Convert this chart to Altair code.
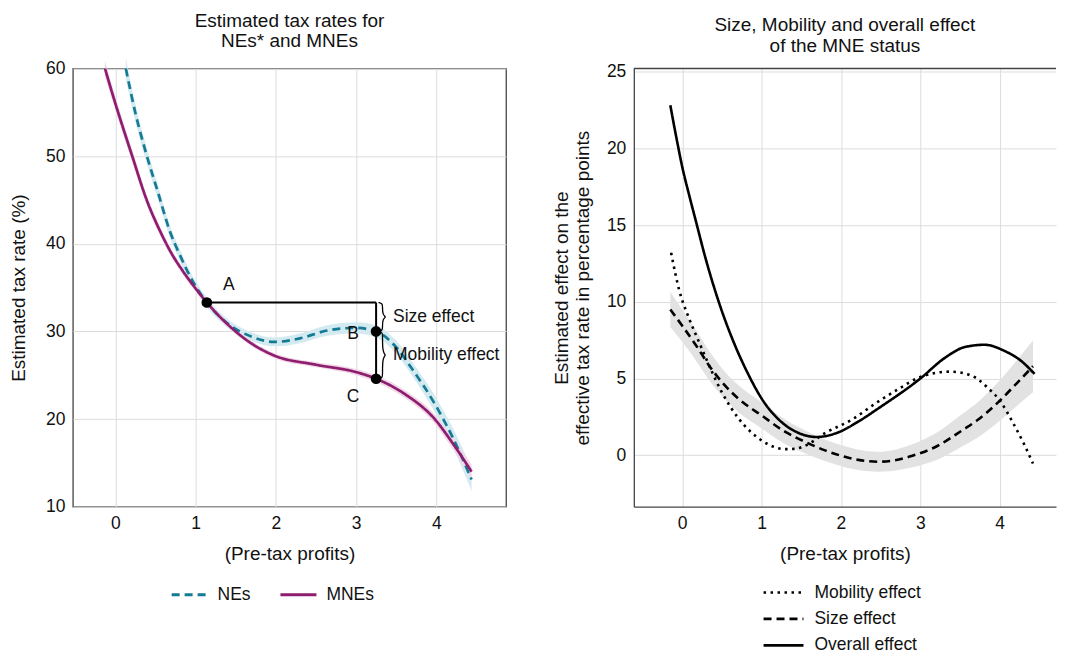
import altair as alt
import pandas as pd

FONT = "Liberation Sans"

# ---------------- Left panel data ----------------
ne_x = [0.13, 0.25, 0.39, 0.53, 0.68, 0.80, 0.93, 1.14, 1.40, 1.70, 1.98, 2.30, 2.64, 3.00, 3.25, 3.50, 3.70, 3.99, 4.20, 4.44]
ne_y = [60.0, 54.9, 50.1, 45.9, 41.4, 38.8, 36.3, 33.3, 30.9, 29.4, 28.8, 29.2, 30.1, 30.4, 30.0, 28.2, 25.7, 21.6, 18.0, 13.1]
ne_hw = [1.2, 1.0, 0.9, 0.8, 0.7, 0.65, 0.6, 0.55, 0.5, 0.5, 0.5, 0.55, 0.6, 0.65, 0.7, 0.75, 0.8, 0.95, 1.1, 1.3]

mne_x = [-0.13, 0.00, 0.21, 0.39, 0.57, 0.70, 0.84, 1.00, 1.14, 1.40, 1.70, 1.98, 2.50, 3.00, 3.25, 3.60, 3.99, 4.20, 4.44]
mne_y = [60.0, 56.0, 50.0, 45.0, 41.2, 38.9, 36.9, 34.9, 33.3, 30.8, 28.6, 27.25, 26.2, 25.36, 24.6, 22.9, 19.9, 17.3, 14.0]
mne_hw = [0.9, 0.8, 0.7, 0.6, 0.5, 0.45, 0.4, 0.38, 0.35, 0.3, 0.3, 0.3, 0.3, 0.35, 0.4, 0.45, 0.55, 0.65, 0.8]

pt_labels = ["A", "B", "C"]
pt_x = [1.14, 3.25, 3.25]
pt_y = [33.3, 30.0, 24.6]

footnote = "*NEs = national enterprises"

# ---------------- Right panel data ----------------
all_x = [-0.15, -0.07, 0.00, 0.09, 0.18, 0.28, 0.46, 0.67, 0.84, 1.00, 1.25, 1.46, 1.69, 1.97, 2.22, 2.47, 3.00, 3.31, 3.56, 3.81, 4.06, 4.27, 4.44]
all_y = [22.8, 20.6, 18.8, 16.9, 15.1, 13.1, 10.0, 7.1, 5.2, 3.7, 2.17, 1.47, 1.19, 1.5, 2.2, 3.05, 5.0, 6.35, 7.05, 7.2, 6.8, 6.15, 5.3]

mob_x = [-0.14, -0.04, 0.08, 0.21, 0.36, 0.50, 0.71, 1.00, 1.30, 1.42, 1.55, 1.80, 2.13, 2.47, 2.72, 3.00, 3.37, 3.64, 3.85, 4.01, 4.18, 4.31, 4.42]
mob_y = [13.2, 10.8, 9.0, 7.4, 5.6, 4.1, 2.4, 0.97, 0.40, 0.42, 0.62, 1.45, 2.3, 3.5, 4.3, 5.1, 5.45, 5.2, 4.4, 3.5, 2.0, 0.7, -0.54]

size_x = [-0.15, 0.00, 0.19, 0.34, 0.50, 0.71, 1.00, 1.30, 1.55, 1.80, 2.05, 2.22, 2.47, 2.67, 2.89, 3.22, 3.52, 3.73, 3.98, 4.23, 4.42]
size_y = [9.5, 8.44, 7.04, 5.84, 4.77, 3.68, 2.6, 1.52, 0.87, 0.32, -0.1, -0.3, -0.42, -0.33, -0.05, 0.62, 1.6, 2.33, 3.45, 4.77, 5.8]
size_hw = [1.15, 1.05, 1.0, 0.95, 0.9, 0.88, 0.85, 0.8, 0.75, 0.7, 0.68, 0.66, 0.65, 0.68, 0.75, 0.9, 1.05, 1.15, 1.3, 1.5, 1.7]

series_names = ["Mobility effect", "Size effect", "Overall effect"]

# ---------------- Build tables ----------------
ne_band = pd.DataFrame({"x": ne_x, "lo": [y - h for y, h in zip(ne_y, ne_hw)], "hi": [y + h for y, h in zip(ne_y, ne_hw)]})
mne_band = pd.DataFrame({"x": mne_x, "lo": [y - h for y, h in zip(mne_y, mne_hw)], "hi": [y + h for y, h in zip(mne_y, mne_hw)]})
left_lines = pd.concat([
    pd.DataFrame({"x": ne_x, "y": ne_y, "group": "NEs"}),
    pd.DataFrame({"x": mne_x, "y": mne_y, "group": "MNEs"}),
])
pts = pd.DataFrame({"x": pt_x, "y": pt_y, "label": pt_labels})
hrule = pd.DataFrame({"x": [pt_x[0]], "x2": [pt_x[2]], "y": [pt_y[0]]})
vrule = pd.DataFrame({"x": [pt_x[2]], "y": [pt_y[0]], "y2": [pt_y[2]]})


def brace(x0, ylo, yhi, w, d, name):
    ym = (ylo + yhi) / 2
    xs = [x0, x0 + w * 0.5, x0 + w * 0.5, x0 + w * 0.5, x0 + w, x0 + w * 0.5, x0 + w * 0.5, x0 + w * 0.5, x0]
    ys = [yhi, yhi - d * 0.3, yhi - d, ym + d * 0.5, ym, ym - d * 0.5, ylo + d, ylo + d * 0.3, ylo]
    return pd.DataFrame({"x": xs, "y": ys, "o": list(range(len(xs))), "b": name})


braces = pd.concat([
    brace(pt_x[2] + 0.03, pt_y[1], pt_y[0], 0.1, 0.45, "size"),
    brace(pt_x[2] + 0.03, pt_y[2], pt_y[1], 0.1, 0.45, "mob"),
])
brace_text = pd.DataFrame({
    "x": [pt_x[2], pt_x[2]],
    "y": [(pt_y[0] + pt_y[1]) / 2, (pt_y[1] + pt_y[2]) / 2],
    "t": ["Size effect", "Mobility effect"],
})

right_lines = pd.concat([
    pd.DataFrame({"x": mob_x, "y": mob_y, "series": series_names[0]}),
    pd.DataFrame({"x": size_x, "y": size_y, "series": series_names[1]}),
    pd.DataFrame({"x": all_x, "y": all_y, "series": series_names[2]}),
])
size_band = pd.DataFrame({"x": size_x, "lo": [y - h for y, h in zip(size_y, size_hw)], "hi": [y + h for y, h in zip(size_y, size_hw)]})

LBL = 17.5
TTL = 19

# ---------------- Left chart ----------------
xsL = alt.Scale(domain=[-0.53, 4.87], nice=False, zero=False)
ysL = alt.Scale(domain=[10, 60], nice=False, zero=False)
xaxL = alt.Axis(values=[0, 1, 2, 3, 4], title="(Pre-tax profits)", format="d")
yaxL = alt.Axis(values=[10, 20, 30, 40, 50, 60], title="Estimated tax rate (%)", titlePadding=17)
XL = alt.X("x:Q", scale=xsL, axis=xaxL)
YL = alt.Y("y:Q", scale=ysL, axis=yaxL)

ne_area = alt.Chart(ne_band).mark_area(color="#d4eaf1", interpolate="monotone").encode(
    x=XL, y=alt.Y("lo:Q", scale=ysL, axis=yaxL), y2="hi:Q")
mne_area = alt.Chart(mne_band).mark_area(color="#f1d8e7", interpolate="monotone").encode(
    x=XL, y=alt.Y("lo:Q", scale=ysL, axis=yaxL), y2="hi:Q")

legL = alt.Legend(title=None, orient="none", legendX=97, legendY=507, direction="horizontal",
                  symbolType="stroke", symbolSize=1300, symbolStrokeWidth=3, labelFontSize=LBL,
                  columnPadding=22, padding=0, labelOffset=8)
linesL = alt.Chart(left_lines).mark_line(strokeWidth=2.7, interpolate="monotone").encode(
    x=XL, y=YL,
    color=alt.Color("group:N", scale=alt.Scale(domain=["NEs", "MNEs"], range=["#157a94", "#8e1c6f"]), legend=legL),
    strokeDash=alt.StrokeDash("group:N", scale=alt.Scale(domain=["NEs", "MNEs"], range=[[8, 5], [1, 0]]), legend=legL),
)
h_rule = alt.Chart(hrule).mark_rule(color="black", strokeWidth=2).encode(x=XL, x2="x2:Q", y=YL)
v_rule = alt.Chart(vrule).mark_rule(color="black", strokeWidth=2).encode(x=XL, y=YL, y2="y2:Q")
brace_lines = alt.Chart(braces).mark_line(color="black", strokeWidth=1.3, interpolate="basis").encode(
    x=XL, y=YL, order="o:Q", detail="b:N")
brace_labels = alt.Chart(brace_text).mark_text(align="left", baseline="middle", dx=17, fontSize=LBL, font=FONT, color="#111").encode(
    x=XL, y=YL, text="t:N")
points = alt.Chart(pts).mark_circle(size=115, color="black", opacity=1).encode(x=XL, y=YL)
lblA = alt.Chart(pts[pts.label == "A"]).mark_text(fontSize=LBL, font=FONT, dx=22, dy=-18, color="#111").encode(
    x=XL, y=YL, text="label:N")
lblB = alt.Chart(pts[pts.label == "B"]).mark_text(fontSize=LBL, font=FONT, dx=-23, dy=3, color="#111").encode(
    x=XL, y=YL, text="label:N")
lblC = alt.Chart(pts[pts.label == "C"]).mark_text(fontSize=LBL, font=FONT, dx=-23, dy=18, color="#111").encode(
    x=XL, y=YL, text="label:N")
foot = alt.Chart(pd.DataFrame({"t": [footnote]})).mark_text(align="left", baseline="alphabetic", fontSize=15, font=FONT, color="#222").encode(
    x=alt.value(-59), y=alt.value(598), text="t:N")

left = alt.layer(ne_area, mne_area, linesL, h_rule, v_rule, brace_lines, brace_labels, points, lblA, lblB, lblC, foot).properties(
    width=434, height=439,
    title=alt.TitleParams(["Estimated tax rates for", "NEs* and MNEs"]),
)

# ---------------- Right chart ----------------
RW = 423
xsR = alt.Scale(domain=[-0.61, 4.71], nice=False, zero=False)
ysR = alt.Scale(domain=[-3.35, 25.2], nice=False, zero=False)
xaxR = alt.Axis(values=[0, 1, 2, 3, 4], title="(Pre-tax profits)", format="d", domain=True, domainColor="#444444", domainWidth=1.3)
yaxR = alt.Axis(values=[0, 5, 10, 15, 20, 25], title=["Estimated effect on the", "effective tax rate in percentage points"],
                titlePadding=14, domain=True, domainColor="#444444", domainWidth=1.3)
XR = alt.X("x:Q", scale=xsR, axis=xaxR)
YR = alt.Y("y:Q", scale=ysR, axis=yaxR)
dash_scale = alt.Scale(domain=series_names, range=[[2.5, 4.5], [8, 5], [1, 0]])

band_r = alt.Chart(size_band).mark_area(color="#e2e2e2", interpolate="monotone").encode(
    x=XR, y=alt.Y("lo:Q", scale=ysR, axis=yaxR), y2="hi:Q")
linesR = alt.Chart(right_lines).mark_line(strokeWidth=2.6, color="black", interpolate="monotone").encode(
    x=XR, y=YR,
    strokeDash=alt.StrokeDash("series:N", scale=dash_scale, legend=None),
)
top_border = alt.Chart(pd.DataFrame({"k": [0]})).mark_rule(color="#444444", strokeWidth=1.3).encode(
    x=alt.value(0), x2=alt.value(RW), y=alt.value(0))

# legend for the right panel (one row per series)
leg_df = pd.DataFrame({"series": series_names})
leg_layers = []
for i, name in enumerate(series_names):
    ypix = 525 + 26.5 * i
    base = alt.Chart(leg_df).transform_filter(alt.datum.series == name)
    leg_layers.append(base.mark_rule(strokeWidth=2.7, color="black").encode(
        x=alt.value(130), x2=alt.value(170), y=alt.value(ypix),
        strokeDash=alt.StrokeDash("series:N", scale=dash_scale, legend=None)))
    leg_layers.append(base.mark_text(align="left", baseline="middle", fontSize=LBL, font=FONT, color="#111").encode(
        x=alt.value(181), y=alt.value(ypix), text="series:N"))

right = alt.layer(band_r, linesR, top_border, *leg_layers).properties(
    width=RW, height=439,
    title=alt.TitleParams(["Size, Mobility and overall effect", "of the MNE status"]),
    view=alt.ViewBackground(stroke="transparent"),
)

chart = alt.hconcat(left, right, spacing=44).resolve_scale(
    x="independent", y="independent", color="independent", strokeDash="independent"
).resolve_legend(color="independent", strokeDash="independent").properties(
    padding={"left": 0, "top": 2, "right": 0, "bottom": 5},
).configure(
    font=FONT,
).configure_view(
    stroke="#444444", strokeWidth=1.3,
).configure_axis(
    labelFontSize=LBL, titleFontSize=TTL, titleFontWeight="normal", labelColor="#111", titleColor="#111",
    ticks=False, domain=False, gridColor="#dcdcdc", gridWidth=1, labelPadding=8, titlePadding=12,
    labelFont=FONT, titleFont=FONT,
).configure_title(
    fontSize=TTL, fontWeight="normal", color="#111", anchor="middle", offset=7, lineHeight=20.5, font=FONT,
).configure_legend(labelFont=FONT, labelColor="#111")

chart.save("out.html", embed_options={"renderer": "svg", "actions": False})
